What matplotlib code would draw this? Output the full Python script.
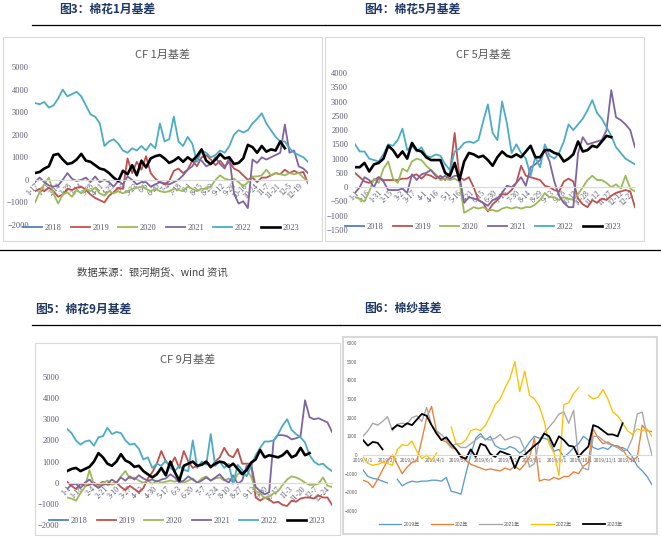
import numpy as np
import matplotlib
matplotlib.use('Agg')
import matplotlib.pyplot as plt
from matplotlib.lines import Line2D
from matplotlib.patches import Rectangle

plt.rcParams['font.family'] = ['Noto Sans CJK SC', 'DejaVu Sans']
NaN = np.nan

# ---------------- CF 1月基差 ----------------
c1_labels = ['1-17', '1-31', '2-14', '2-28', '3-14', '3-28', '4-11', '4-25', '5-9', '5-23',
             '6-6', '6-20', '7-4', '7-18', '8-1', '8-15', '8-29', '9-12', '9-26', '10-10',
             '10-24', '11-7', '11-21', '12-5', '12-19']
c1_2018 = []
c1_2019 = [-500, -400, -500, -350, -500, -750, -650, -400, -450, -350,
           -300, -450, -650, -800, -900, -1000, -700, -550, -350, -400,
           950, 300, 800, 450, 1050, 300, 50, -100, -200, -50,
           400, 500, 300, 450, 850, 600, 1000, 1100, 900, 650,
           850, 600, 800, 500, 400, 200, 0, 100, -100, 100,
           100, 200, 300, 250, 450, 300, 400, 300, 350, -150]
c1_2020 = [-1000, -550, -200, 100, -600, -1050, -650, -550, -750, -450,
           -600, -400, -500, -350, -600, -700, -500, -600, -500, -600,
           -500, -400, -350, -300, -400, -500, -400, -500, -550, -500,
           -400, -450, -500, -300, -400, -500, -400, -400, -300, 0,
           200, 50, 0, 50, -100, -300, -100, 150, 150, 200,
           450, 200, 300, 250, 200, 300, 250, 300, 100, -100]
c1_2021 = [-100, 100, -100, -250, -300, -250, 0, 300, 50, -50,
           0, 100, -100, 150, -100, 0, -100, -300, -50, -200,
           150, 0, -200, -100, -100, -300, -200, -100, -150, -200,
           -100, 0, 200, 450, 600, 950, 850, 600, 700, 1000,
           700, 500, 1000, -600, -1050, -950, -1250, 900, 750, 1000,
           900, 1000, 1100, 1200, 2450, 1200, 1300, 600, 500, 300]
c1_2022 = [3400, 3350, 3450, 3200, 3300, 3600, 4000, 3700, 3800, 3900,
           3700, 3300, 2900, 2800, 2500, 1500, 1700, 1800, 1600, 1300,
           1200, 1400, 1300, 1500, 1300, 1600, 1400, 2500, 1700, 1800,
           2800, 1700, 1500, 1900, 1600, 800, 1300, 1200, 1000, 1100,
           1300, 1200, 1500, 2000, 2200, 2100, 2200, 2500, 2700, 2950,
           2500, 2200, 1900, 1700, 1700, 1400, 1200, 1100, 1000, 800]
c1_2023 = [300, 350, 500, 600, 1100, 1150, 900, 700, 750, 900,
           1150, 850, 800, 650, 500, 450, 300, 100, -50, 400,
           250, 650, 200, 850, 550, 950, 1050, 1100, 950, 750,
           850, 1000, 800, 1000, 850, 1050, 1350, 850, 700, 900,
           1150, 950, 1000, 700, 750, 950, 1550, 1450, 1200, 1500,
           1250, 1350, 1300, 1700, 1400]

# ---------------- CF 5月基差 ----------------
c2_labels = ['1-1', '1-16', '1-31', '2-15', '3-2', '3-17', '4-1', '4-16', '5-1', '5-16',
             '5-31', '6-15', '6-30', '7-15', '7-30', '8-14', '8-29', '9-13', '9-28', '10-13',
             '10-28', '11-12', '11-27', '12-12', '12-27']
c2_2018 = []
c2_2019 = [500, 350, 200, 150, 250, 350, 250, 250, 250, 250,
           300, 300, 400, 450, 300, 450, 400, 300, 400, 250,
           500, 1900, 350, 250, 350, 0, -450, -550, -850, -600,
           -450, -250, -250, -100, 150, 750, 400, 350, 300, 250,
           50, 0, -100, -150, 200, 300, 200, -400, -600, -700,
           -450, -550, -400, -450, -300, -200, -150, -100, -150, -700]
c2_2020 = [-350, -400, -500, -150, 300, 150, 650, 900, 300, 150,
           650, 550, 900, 1000, 950, 750, 600, 450, 250, 300,
           250, 300, 200, -900, -800, -700, -750, -700, -800, -800,
           -850, -750, -700, -750, -700, -750, -700, -700, -600, -450,
           -200, -350, -350, -450, -350, -400, -450, -250, 0, 250,
           400, 250, 250, 150, 0, 100, -50, 400, -50, -150]
c2_2021 = [-200, 0, 350, 250, 0, 350, 200, -100, -100, -100,
           -50, -200, 450, 250, 450, 500, 600, 400, 300, 400,
           300, 400, 400, -550, -350, -400, -450, -550, -650, -450,
           -400, -200, 50, 0, 150, 350, 50, 700, 800, 950,
           1300, 900, 200, -300, -550, -700, -700, 1200, 1750, 1500,
           1550, 1600, 1650, 2000, 3400, 2450, 2350, 2200, 2000, 1400]
c2_2022 = [1500, 1250, 1250, 1000, 950, 900, 1150, 1500, 1450, 1650,
           2050, 1300, 1450, 1250, 1400, 1100, 1050, 1150, 1100, 800,
           600, 1250, 1350, 1550, 1600, 1550, 1650, 2300, 2900, 1900,
           1650, 3000, 2250, 1200, 1500, 1200, 1000, 400, 1050, 700,
           1500, 1100, 1000, 1200, 1600, 2200, 2000, 2200, 2400, 2700,
           3050, 2600, 2400, 2100, 1800, 1400, 1200, 1000, 900, 800]
c2_2023 = [700, 700, 850, 550, 800, 850, 1000, 1450, 1300, 1050,
           1250, 1000, 1550, 1300, 1250, 1050, 950, 950, 950, 500,
           400, 850, 250, 900, 1200, 1150, 1050, 1100, 950, 750,
           1050, 1250, 1100, 1050, 1150, 1050, 1250, 1450, 1050, 1050,
           1300, 1300, 1200, 1150, 900, 1000, 1150, 1600, 1250, 1300,
           1450, 1400, 1600, 1800, 1750]

# ---------------- CF 9月基差 ----------------
c3_labels = ['1-1', '1-18', '2-4', '2-21', '3-10', '3-27', '4-13', '4-30', '5-17', '6-3',
             '6-20', '7-7', '7-24', '8-10', '8-27', '9-13', '9-30', '10-17', '11-3', '11-20',
             '12-7', '12-24']
c3_2018 = []
c3_2019 = [50, -150, -300, -50, -150, -100, 0, -100, 50, -100,
           -50, 0, -200, -350, -150, -300, -450, -250, 200, 500,
           900, 1500, 1000, 800, 1200, 700, 1500, 1000, 700, 800,
           900, 1000, 700, 1000, 1200, 1650, 1300, 1200, 1600, 900,
           900, 900, -700, -850, -700, -800, -950, -900, -1050, -1100,
           -850, -900, -750, -700, -700, -750, -600, -700, -700, -1050]
c3_2020 = [-700, -750, -850, -500, -200, 600, -100, -200, 0, 100,
           -100, 0, 300, 550, 200, 250, 100, 0, 100, -50,
           100, 0, 50, 100, 50, 150, 0, 100, 200, 0,
           200, 300, 100, 200, 250, 100, 200, 0, 400, 500,
           600, 300, -400, -500, -750, -650, -500, -400, -100, 150,
           300, 250, 150, 0, -100, -100, -50, 250, -150, -200]
c3_2021 = [-300, -100, -50, -250, 0, 150, -100, -250, -100, -50,
           150, 0, 250, 100, 300, 150, 350, 200, 100, 150,
           50, 150, 200, 400, 250, 0, 100, 300, 150, 0,
           100, 250, 100, 250, 400, 150, 0, 350, -50, 100,
           800, 850, -200, -400, -550, -450, 2000, 2250, 2250, 2200,
           2050, 2100, 2200, 3900, 3100, 3000, 3050, 2950, 2850, 2400]
c3_2022 = [2550, 2350, 2000, 1800, 1950, 2000, 1750, 2150, 2200, 2600,
           2300, 2400, 2350, 2000, 1800, 1850, 1600, 1100, 1200, 700,
           900, 800, 1050, 700, 550, 800, 600, 550, 2000, 700,
           1000, 850, 2300, 800, 1000, 700, 900, -50, 850, 600,
           300, 800, 1300, 1650, 1950, 1950, 2000, 2300, 2700, 3000,
           2500, 2300, 2150, 1900, 1300, 1000, 850, 900, 700, 550]
c3_2023 = [550, 650, 700, 550, 650, 750, 1000, 1400, 1200, 900,
           800, 1000, 1350, 1050, 950, 750, 800, 550, 400, 250,
           400, 700, 350, 1000, 500, 100, 800, 900, 1000, 800,
           850, 1000, 750, 900, 1000, 950, 750, 900, 650, 400,
           600, 950, 1100, 1550, 1200, 1300, 1250, 1200, 1300, 1500,
           1200, 1300, 1650, 1300, 1400]

# ---------------- 棉纱基差 ----------------
c4_labels = ['2019/1/1', '2019/2/1', '2019/3/1', '2019/4/1', '2019/5/1', '2019/6/1',
             '2019/7/1', '2019/8/1', '2019/9/1', '2019/10/1', '2019/11/1', '2019/12/1']
c4_month_doy = [0, 31, 59, 90, 120, 151, 181, 212, 243, 273, 304, 334]
c4_names = ['2019年', '202年', '2021年', '2022年', '2023年']
c4_2019 = [-800, -1150, -1250, -1300, -1400, -1500, NaN, -1300, -1650, -1500,
           -1400, -1450, -1400, -1400, -1350, -1350, -1400, -1200, -1950, -2000,
           -2100, -1000, 0, 900, 1150, 800, 1000, 500, 350, 300,
           450, 350, 100, 300, 700, 1000, 900, 900, 800, 200,
           300, -100, 100, 400, 600, 1000, 800, 400, 300, 400,
           300, 550, 400, 400, 250, -100, -600, -850, -1150, -1600]
c4_2020 = [-1350, -1450, -1750, -1300, -800, -300, 0, -500, -1000, -650,
           -400, -300, 800, 2000, 2600, 1300, 800, 700, 400, 300,
           0, -300, -500, -600, -700, -800, -750, -800, -850, -700,
           -800, -600, -800, -500, -100, 900, -1400, -1300, -1350, -1200,
           -1300, -1150, -1150, -900, -1000, -600, -400, 1400, 900, 600,
           700, 500, 500, 300, -100, -300, -100, 1600, 1300, 1250]
c4_2021 = [1000, 1300, 1700, 1600, 1800, 2050, 1300, 1650, 1700, 1650,
           2000, 2100, 1800, 2550, 1600, 1300, 1100, 800, 450, 600,
           400, 400, 600, 800, 1000, 850, 800, 900, 1100, 800,
           900, 1000, 900, 300, -650, -450, 800, 1200, 1500, 1800,
           2200, 2300, 1700, 2400, -200, -700, -800, 1000, 1000, 800,
           600, 500, 400, 200, 300, 900, 2200, 2300, 1000, 0]
c4_2022 = [-100, -450, -550, -500, -400, -450, -550, 300, 550, 500,
           750, 200, -200, 0, -300, 100, NaN, NaN, 1500, 600,
           600, 800, 1300, 1400, 1300, 1600, 2100, 2700, 3000, 3600,
           4100, 5000, 3400, 4500, 3200, 3000, 2600, 1800, 600, 100,
           -1100, 2700, 2800, 3300, 3600, NaN, 3200, 3000, 3100, 3500,
           3000, 2300, 2100, 1700, 1300, 1100, 1400, 1300, 1400, 1000]
c4_2023 = [800, 500, 700, 650, 300, NaN, 1400, 1600, 1500, 1700,
           1600, 1900, 2200, 2100, 1600, 1150, 800, 950, 600, 300,
           -100, -200, 300, -100, 600, 500, 50, -100, 200, 100,
           0, -700, -100, 0, 250, 500, 700, 1150, 1000, 450,
           1000, 800, 500, 450, -100, 200, 450, 1600, 1500, 1300,
           1100, 1100, 1000, 1700]

cf_years = ['2018', '2019', '2020', '2021', '2022', '2023']
cf_colors = ['#4f81bd', '#c0504d', '#9bbb59', '#8064a2', '#4bacc6', 'black']
yarn_colors = ['#5b9bd5', '#ed7d31', '#a5a5a5', '#ffc000', 'black']

W, H = 661, 537
fig = plt.figure(figsize=(W / 100, H / 100), dpi=100)
SERIF = 'Liberation Serif'
TICK = '#5a5a72'
HEAD = '#1f3864'


def fx(x):
    return x / W


def fy(y):
    return 1 - y / H


def frame(x0, y0, x1, y1, lw=0.8):
    fig.add_artist(Rectangle((fx(x0), fy(y1)), (x1 - x0) / W, (y1 - y0) / H,
                             transform=fig.transFigure, fill=False, ec='#d9d9d9', lw=lw))


def hline(x0, x1, y):
    fig.add_artist(Line2D([fx(x0), fx(x1)], [fy(y), fy(y)], color='black', lw=0.9))


def make_ax(x0, y0, x1, y1):
    ax = fig.add_axes([fx(x0), fy(y1), (x1 - x0) / W, (y1 - y0) / H])
    ax.patch.set_alpha(0)
    for s in ['top', 'right', 'left']:
        ax.spines[s].set_visible(False)
    ax.spines['bottom'].set_position(('data', 0))
    ax.spines['bottom'].set_color('#d9d9d9')
    ax.spines['bottom'].set_linewidth(0.8)
    ax.tick_params(length=0)
    return ax


def cf_chart(box, series, ylim, ystep, labels, step_days, span_days, title, title_xy, leg_xy, ypad):
    ax = make_ax(*box)
    for vals, yr, col in zip(series, cf_years, cf_colors):
        lw = 1.9 if yr == '2023' else 1.3
        ax.plot(np.arange(len(vals)), vals, color=col, lw=lw, label=yr)
    ax.set_xlim(0, 59)
    ax.set_ylim(*ylim)
    ax.set_yticks(np.arange(ylim[0], ylim[1] + 1, ystep))
    ax.tick_params(axis='y', pad=ypad, labelsize=6, labelcolor=TICK)
    for t in ax.get_yticklabels():
        t.set_fontfamily(SERIF)
    ax.set_xticks(np.arange(len(labels)) * step_days * 59 / span_days)
    ax.set_xticklabels(labels, rotation=45, ha='right', va='top', rotation_mode='anchor',
                       fontsize=5.5, family=SERIF, color=TICK)
    ax.tick_params(axis='x', pad=1.5)
    fig.text(fx(title_xy[0]), fy(title_xy[1]), title, ha='center', va='center',
             fontsize=8, color='#595959')
    ax.legend(loc='center', bbox_to_anchor=(fx(leg_xy[0]), fy(leg_xy[1])),
              bbox_transform=fig.transFigure, ncol=6, frameon=False,
              prop={'family': SERIF, 'size': 6}, labelcolor=TICK,
              handlelength=2.3, handletextpad=0.3, columnspacing=1.1)
    return ax


# headers and rules
head_kw = dict(fontsize=8.5, fontweight='bold', color=HEAD, va='center', ha='left')
fig.text(fx(59), fy(9), '图3：棉花1月基差', **head_kw)
fig.text(fx(364), fy(9), '图4：棉花5月基差', **head_kw)
fig.text(fx(35), fy(309), '图5：棉花9月基差', **head_kw)
fig.text(fx(364), fy(308), '图6：棉纱基差', **head_kw)
hline(32, 325, 25)
hline(325, 661, 25)
hline(0, 661, 250.5)
hline(32, 340, 325)
hline(340, 661, 325)
fig.text(fx(77), fy(273), '数据来源：银河期货、wind 资讯', fontsize=7.5, color='#404040',
         va='center', ha='left')

# chart frames
frame(3, 37, 322, 241)
frame(325, 37, 644, 241)
frame(35, 343, 340, 535)
frame(343, 337, 657, 534, lw=1.5)

cf_chart((35, 67, 308, 225), [c1_2018, c1_2019, c1_2020, c1_2021, c1_2022, c1_2023],
         (-2000, 5000), 1000, c1_labels, 14, 348, 'CF 1月基差', (163, 55), (161, 228), 4.5)
cf_chart((355, 73, 635, 230), [c2_2018, c2_2019, c2_2020, c2_2021, c2_2022, c2_2023],
         (-1500, 4000), 500, c2_labels, 15, 365, 'CF 5月基差', (484, 55), (483, 227), 5)
cf_chart((67, 377, 332, 525), [c3_2018, c3_2019, c3_2020, c3_2021, c3_2022, c3_2023],
         (-2000, 5000), 1000, c3_labels, 17, 365, 'CF 9月基差', (188, 360), (187, 521), 5.5)

# yarn basis chart
ax4 = make_ax(363, 343, 652, 511)
for vals, name, col in zip([c4_2019, c4_2020, c4_2021, c4_2022, c4_2023], c4_names, yarn_colors):
    lw = 1.3 if col == 'black' else 0.95
    ax4.plot(np.arange(len(vals)), np.array(vals, dtype=float), color=col, lw=lw, label=name)
ax4.set_xlim(0, 59)
ax4.set_ylim(-3000, 6000)
ax4.set_yticks(np.arange(-3000, 6001, 1000))
ax4.tick_params(axis='y', pad=4, labelsize=3.3, labelcolor='#595959')
ax4.set_xticks(np.array(c4_month_doy) * 59 / 362)
ax4.set_xticklabels(c4_labels, fontsize=3.5, color='#595959')
ax4.tick_params(axis='x', pad=2)
ax4.legend(loc='center', bbox_to_anchor=(fx(501), fy(524)), bbox_transform=fig.transFigure,
           ncol=5, frameon=False, prop={'family': ['Liberation Sans', 'Noto Sans CJK SC'], 'size': 3.6},
           labelcolor='#595959', handlelength=4.5, handletextpad=0.4, columnspacing=2.2)

fig.savefig('out.png', dpi=100)
